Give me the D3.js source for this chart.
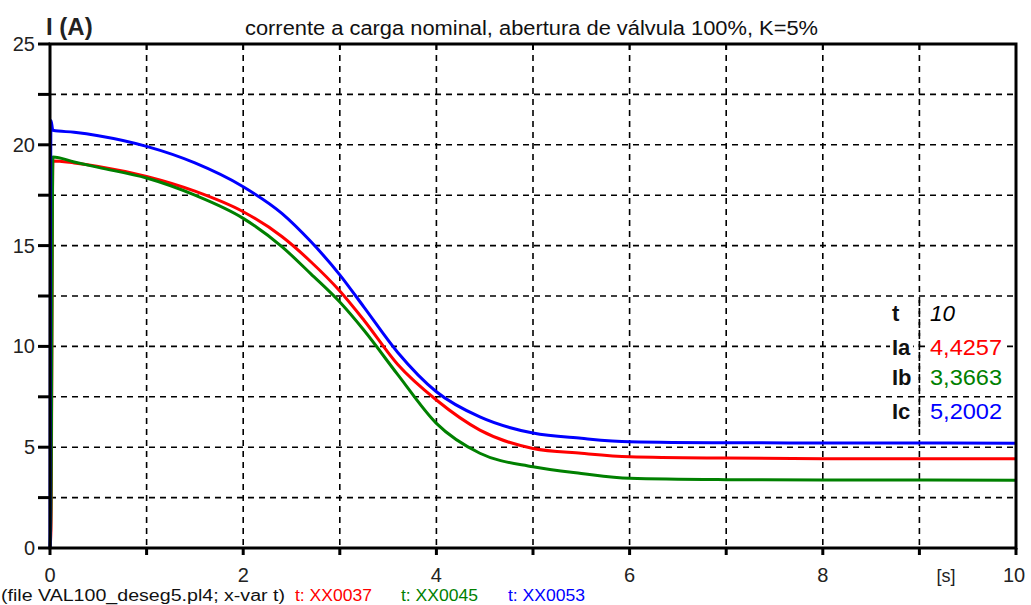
<!DOCTYPE html>
<html><head><meta charset="utf-8">
<script src="https://cdn.jsdelivr.net/npm/d3@7"></script>
<style>
html,body{margin:0;padding:0;background:#fff;}
svg{display:block;font-family:"Liberation Sans",Arial,sans-serif;}
</style></head>
<body>
<svg id="chart" width="1031" height="605"></svg>
<script>
// ---- data ----
const timeS    = [0, 0.01, 0.03, 0.25, 0.5, 1.0, 1.5, 2.0, 2.4, 2.7, 3.0, 3.25, 3.6, 4.0, 4.45, 5.0, 5.5, 6.0, 7.0, 8.0, 10.0];
const iaValues = [0, 0.9, 19.2, 19.1, 18.93, 18.43, 17.7, 16.68, 15.45, 14.2, 12.75, 11.3, 9.1, 7.34, 5.85, 4.94, 4.70, 4.53, 4.46, 4.43, 4.4257];
const ibValues = [0, 2.0, 19.4, 19.15, 18.88, 18.35, 17.5, 16.35, 14.95, 13.6, 12.2, 10.8, 8.6, 6.18, 4.70, 4.03, 3.70, 3.46, 3.39, 3.37, 3.3663];
const icValues = [0, 21.2, 20.72, 20.62, 20.45, 19.92, 19.1, 17.92, 16.6, 15.2, 13.55, 11.95, 9.7, 7.75, 6.5, 5.7, 5.44, 5.27, 5.22, 5.21, 5.2002];
const seriesNames = ["Ia", "Ib", "Ic"];
const seriesColors = ["#ff0000", "#008000", "#0000ff"];
const seriesTags = ["t: XX0037", "t: XX0045", "t: XX0053"];
const legendValues = ["4,4257", "3,3663", "5,2002"];
const cursorTime = "10";
const xMajorTicks = [0, 2, 4, 6, 8, 10];
const yMajorTicks = [0, 5, 10, 15, 20, 25];
const titleText = "corrente a carga nominal, abertura de válvula 100%, K=5%";
const yAxisTitle = "I (A)";
const xUnit = "[s]";
const footerText = "(file VAL100_deseg5.pl4; x-var t)";

// ---- chart ----
const svg = d3.select("#chart");
const x = d3.scaleLinear().domain([0, 10]).range([50, 1016]);
const y = d3.scaleLinear().domain([0, 25]).range([548, 44]);

const xMinor = d3.range(0, 10.01, 1);
const yMinor = d3.range(0, 25.01, 2.5);

// gridlines
const grid = svg.append("g").attr("stroke", "#000").attr("stroke-width", 1.6).attr("stroke-dasharray", "6,5");
grid.selectAll(".vx").data(xMinor.filter(d => d > 0 && d < 10)).join("line")
  .attr("x1", d => x(d)).attr("x2", d => x(d)).attr("y1", y(25)).attr("y2", y(0));
grid.selectAll(".hy").data(yMinor.filter(d => d > 0 && d < 25)).join("line")
  .attr("x1", x(0)).attr("x2", x(10)).attr("y1", d => y(d)).attr("y2", d => y(d));

// curves
const allSeries = [iaValues, ibValues, icValues];
const line = d3.line().x((d, i) => x(timeS[i])).y(d => y(d)).curve(d3.curveMonotoneX);
allSeries.forEach((vals, k) => {
  svg.append("path").datum(vals).attr("d", line)
    .attr("fill", "none").attr("stroke", seriesColors[k]).attr("stroke-width", 3).attr("stroke-linejoin", "round");
});

// legend inside plot
const legendRows = [{label: "t", value: cursorTime, color: "#000", italic: true, w: 25}]
  .concat(seriesNames.map((n, i) => ({label: n, value: legendValues[i], color: seriesColors[i], italic: false, w: 72})));
const rowY = [321, 355, 385, 419];
const leg = svg.append("g");
legendRows.forEach((r, i) => {
  const lt = leg.append("text").attr("x", 892).attr("y", rowY[i])
    .attr("font-size", 22).attr("font-weight", "bold").attr("fill", "#111").text(r.label);
  const vt = leg.append("text").attr("x", 930).attr("y", rowY[i])
    .attr("font-size", 22).attr("fill", r.color).attr("font-style", r.italic ? "italic" : "normal")
    .attr("textLength", r.w).attr("lengthAdjust", "spacingAndGlyphs").text(r.value);
  [lt, vt].forEach(t => {
    const b = t.node().getBBox();
    leg.insert("rect", "text").attr("x", b.x - 2).attr("y", b.y + 2).attr("width", b.width + 4).attr("height", b.height - 2).attr("fill", "#fff");
  });
});
// t=9 gridline stays visible between labels and values
svg.append("line").attr("x1", x(9)).attr("x2", x(9)).attr("y1", 300).attr("y2", 430)
  .attr("stroke", "#000").attr("stroke-width", 1.6).attr("stroke-dasharray", "6,5");

// frame
svg.append("rect").attr("x", x(0)).attr("y", y(25)).attr("width", x(10) - x(0)).attr("height", y(0) - y(25))
  .attr("stroke", "#000").attr("stroke-width", 3).attr("fill", "none");

// y ticks (left, outward)
svg.append("g").selectAll("line").data(yMinor).join("line")
  .attr("x1", x(0) - 12).attr("x2", x(0)).attr("y1", d => y(d)).attr("y2", d => y(d))
  .attr("stroke", "#000").attr("stroke-width", 3);
// x ticks bottom (outward) and top (inward)
svg.append("g").selectAll("line").data(xMinor).join("line")
  .attr("x1", d => x(d)).attr("x2", d => x(d)).attr("y1", y(0)).attr("y2", y(0) + 7)
  .attr("stroke", "#000").attr("stroke-width", 3);
svg.append("g").selectAll("line").data(xMinor.filter(d => d > 0 && d < 10)).join("line")
  .attr("x1", d => x(d)).attr("x2", d => x(d)).attr("y1", y(25)).attr("y2", y(25) + 6)
  .attr("stroke", "#000").attr("stroke-width", 2);

// tick labels
svg.append("g").selectAll("text").data(yMajorTicks).join("text")
  .attr("x", 35).attr("y", d => y(d) + 7).attr("text-anchor", "end")
  .attr("font-size", 20).attr("fill", "#222").text(d => d);
svg.append("g").selectAll("text").data(xMajorTicks).join("text")
  .attr("x", d => d === 10 ? x(d) - 2 : x(d)).attr("y", 582).attr("text-anchor", "middle")
  .attr("font-size", 20).attr("fill", "#222").text(d => d);
svg.append("text").attr("x", 946).attr("y", 582).attr("text-anchor", "middle")
  .attr("font-size", 18).attr("fill", "#222").text(xUnit);

// titles
svg.append("text").attr("x", 46).attr("y", 35).attr("font-size", 24).attr("font-weight", "bold").attr("fill", "#222").text(yAxisTitle);
svg.append("text").attr("x", 245).attr("y", 35).attr("font-size", 20).attr("fill", "#111")
  .attr("textLength", 573).attr("lengthAdjust", "spacingAndGlyphs").text(titleText);

// footer
svg.append("text").attr("x", 1).attr("y", 601).attr("font-size", 16).attr("fill", "#111")
  .attr("textLength", 284).attr("lengthAdjust", "spacingAndGlyphs").text(footerText);
const footX = [295, 401, 508];
seriesTags.forEach((t, i) => {
  svg.append("text").attr("x", footX[i]).attr("y", 601).attr("font-size", 16).attr("fill", seriesColors[i])
    .attr("textLength", 77).attr("lengthAdjust", "spacingAndGlyphs").text(t);
});
</script>
</body></html>
